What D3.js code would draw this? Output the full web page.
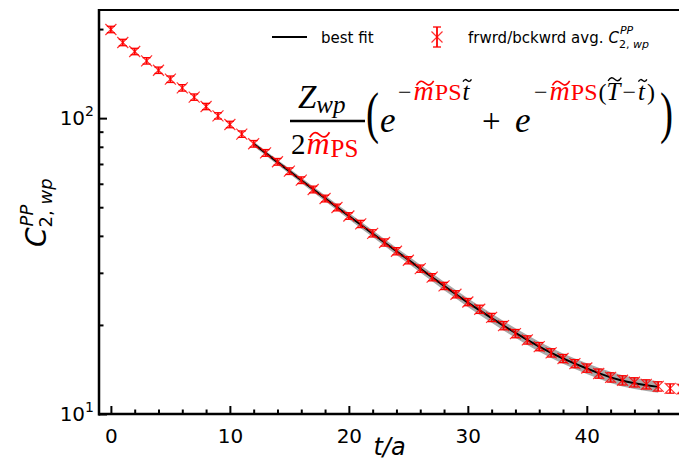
<!DOCTYPE html>
<html><head><meta charset="utf-8">
<script src="https://cdn.jsdelivr.net/npm/d3@7"></script>
<style>body{margin:0;background:#fff} svg{display:block}</style>
</head><body><svg id="c" width="679" height="462"></svg>
<script>
// ---------- data ----------
const tValues = [0,1,2,3,4,5,6,7,8,9,10,11,12,13,14,15,16,17,18,19,20,21,22,23,24,25,26,27,28,29,30,31,32,33,34,35,36,37,38,39,40,41,42,43,44,45,46,47,48];
const corrValues = [199.4,180.2,168.0,156.2,145.2,135.4,126.6,117.8,109.5,101.8,95.2,88.3,81.9,76.3,71.2,66.2,61.7,57.4,53.5,49.9,46.7,43.9,40.8,38.0,35.5,33.1,31.0,29.0,27.1,25.4,23.9,22.6,21.2,19.9,18.7,17.8,16.9,16.1,15.4,14.8,14.3,13.7,13.3,13.0,12.8,12.6,12.4,12.2,12.15];
const corrErrors = [5.0,4.5,4.2,3.9,3.6,3.4,3.2,2.9,2.7,2.5,2.4,2.2,2.1,2.0,1.85,1.7,1.6,1.5,1.4,1.3,1.2,1.23,1.14,1.06,0.99,0.93,0.87,0.81,0.76,0.71,0.67,0.72,0.68,0.64,0.60,0.57,0.54,0.52,0.49,0.47,0.46,0.49,0.48,0.47,0.46,0.45,0.45,0.44,0.44];
const fitT = [12,13,14,15,16,17,18,19,20,21,22,23,24,25,26,27,28,29,30,31,32,33,34,35,36,37,38,39,40,41,42,43,44,45,46];
const fitValues = [81.9,76.2,71.0,66.2,61.7,57.5,53.6,50.0,46.7,43.6,40.7,38.0,35.5,33.2,31.0,29.0,27.1,25.4,23.8,22.4,21.1,19.9,18.8,17.8,16.9,16.1,15.4,14.8,14.25,13.75,13.3,12.95,12.7,12.5,12.35];
const fitBandErr = [1.5,1.45,1.4,1.36,1.32,1.28,1.24,1.2,1.16,1.12,1.08,1.04,1.0,0.97,0.94,0.91,0.88,0.85,0.82,0.79,0.76,0.73,0.70,0.68,0.66,0.64,0.62,0.61,0.60,0.59,0.58,0.57,0.56,0.55,0.55];
const xTickValues = [0,10,20,30,40];
const xMinorTicks = [2,4,6,8,12,14,16,18,22,24,26,28,32,34,36,38,42,44,46];
const yTickValues = [10,100];
const yTickExponents = ["1","2"];
const yMinorTicks = [20,30,40,50,60,70,80,90,200];
const legendLabels = ["best fit","frwrd/bckwrd avg."];

// ---------- setup ----------
const svg = d3.select("#c");
const L = 99, R = 682, T = 10, B = 414;
const x = d3.scaleLinear().domain([-1,48]).range([L,R]);
const y = d3.scaleLog().domain([10,232]).range([B,T]);
const red = "#ff0000";
const sans = "DejaVu Sans";
const serif = "Liberation Serif";

svg.append("clipPath").attr("id","pc").append("rect")
  .attr("x",L).attr("y",T).attr("width",R-L).attr("height",B-T);
const plot = svg.append("g").attr("clip-path","url(#pc)");

// band + fit
const fitData = fitT.map((t,i)=>({t, v:fitValues[i], e:fitBandErr[i]}));
plot.append("path").datum(fitData)
  .attr("d", d3.area().x(d=>x(d.t)).y0(d=>y(d.v-d.e)).y1(d=>y(d.v+d.e)))
  .attr("fill","#a9a9a9");
plot.append("path").datum(fitData)
  .attr("d", d3.line().x(d=>x(d.t)).y(d=>y(d.v)))
  .attr("fill","none").attr("stroke","#000").attr("stroke-width",2);

// data markers
const pts = tValues.map((t,i)=>({t, v:corrValues[i], e:corrErrors[i]}));
function marker(g, cx, cy, yl, yh){
  const m = 5.5, c = 4;
  g.append("path").attr("d",`M${cx-m},${cy-m}L${cx+m},${cy+m}M${cx-m},${cy+m}L${cx+m},${cy-m}`)
    .attr("stroke",red).attr("stroke-width",1.2).attr("stroke-opacity",0.8).attr("fill","none");
  g.append("line").attr("x1",cx).attr("x2",cx).attr("y1",yl).attr("y2",yh).attr("stroke",red).attr("stroke-width",1.8);
  g.append("line").attr("x1",cx-c).attr("x2",cx+c).attr("y1",yl).attr("y2",yl).attr("stroke",red).attr("stroke-width",1.3);
  g.append("line").attr("x1",cx-c).attr("x2",cx+c).attr("y1",yh).attr("y2",yh).attr("stroke",red).attr("stroke-width",1.3);
}
const mg = plot.append("g");
pts.forEach(d=>{ marker(mg, x(d.t), y(d.v), y(d.v-d.e), y(d.v+d.e)); });

// ---------- axes ----------
const xAxis = svg.append("g").attr("transform",`translate(0,${B})`)
  .call(d3.axisBottom(x).tickValues(xTickValues).tickSize(-8).tickPadding(15).tickFormat(d3.format("d")));
const xMinor = svg.append("g").attr("transform",`translate(0,${B})`)
  .call(d3.axisBottom(x).tickValues(xMinorTicks).tickSize(-4.5).tickFormat(""));
const yAxis = svg.append("g").attr("transform",`translate(${L},0)`)
  .call(d3.axisLeft(y).tickValues(yTickValues).tickSize(-8).tickFormat(""));
const yMinor = svg.append("g").attr("transform",`translate(${L},0)`)
  .call(d3.axisLeft(y).tickValues(yMinorTicks).tickSize(-4.5).tickFormat(""));
[xAxis,xMinor,yAxis,yMinor].forEach(a=>{
  a.select(".domain").remove();
  a.selectAll(".tick line").attr("stroke","#000").attr("stroke-width",2);
});
xAxis.selectAll(".tick text").attr("font-family",sans).attr("font-size",20).attr("fill","#000");

yTickValues.forEach((v,i)=>{
  const t = svg.append("text").attr("x",94).attr("y",y(v)+7).attr("text-anchor","end")
    .attr("font-family",sans).attr("font-size",20).attr("fill","#000");
  t.append("tspan").text("10");
  t.append("tspan").attr("font-size",14).attr("dy",-9).text(yTickExponents[i]);
});

// spines
svg.append("line").attr("x1",L).attr("x2",L).attr("y1",T-1).attr("y2",B+1.5).attr("stroke","#000").attr("stroke-width",2.5);
svg.append("line").attr("x1",L-1).attr("x2",R).attr("y1",B).attr("y2",B).attr("stroke","#000").attr("stroke-width",2.5);
svg.append("line").attr("x1",L-1).attr("x2",R).attr("y1",T).attr("y2",T).attr("stroke","#000").attr("stroke-width",2);

// axis labels
svg.append("text").attr("x",(L+R)/2-1).attr("y",455).attr("text-anchor","middle")
  .attr("font-family",sans).attr("font-style","italic").attr("font-size",24).attr("fill","#000").text("t/a");

function cLabel(g, x0, y0, big, small, supDy, subDy){
  const c = g.append("text").attr("x",x0).attr("y",y0).attr("font-family",sans).attr("font-style","italic")
    .attr("font-size",big).attr("fill","#000").text("C");
  const w = c.node().getComputedTextLength();
  g.append("text").attr("x",x0+w+1).attr("y",y0+supDy).attr("font-family",sans).attr("font-style","italic")
    .attr("font-size",small).attr("fill","#000").text("PP");
  const sub = g.append("text").attr("x",x0+w).attr("y",y0+subDy).attr("font-family",sans)
    .attr("font-size",small).attr("fill","#000");
  sub.append("tspan").text("2, ");
  sub.append("tspan").attr("font-style","italic").text("wp");
}
const yl = svg.append("g").attr("transform","translate(46,247) rotate(-90)");
cLabel(yl, 0, 0, 28, 18, -13, 6);

// ---------- legend ----------
svg.append("line").attr("x1",272).attr("x2",307).attr("y1",37).attr("y2",37).attr("stroke","#000").attr("stroke-width",2);
svg.append("text").attr("x",321).attr("y",43).attr("font-family",sans).attr("font-size",15).attr("fill","#000").text(legendLabels[0]);
marker(svg.append("g"), 437, 37, 47, 27);
const lt = svg.append("text").attr("x",468).attr("y",43).attr("font-family",sans).attr("font-size",15).attr("fill","#000").text(legendLabels[1]);
const lw = lt.node().getComputedTextLength();
cLabel(svg.append("g"), 468+lw+5, 43, 15, 11, -9, 5);

// ---------- formula ----------
const fg = svg.append("g");
function piece(px, py, str, size, opts={}){
  const t = fg.append("text").attr("x",px).attr("y",py).attr("font-family",serif)
    .attr("font-size",size).attr("fill",opts.color||"#000").text(str);
  if(opts.italic) t.attr("font-style","italic");
  if(opts.tr) t.attr("transform",opts.tr);
  return t;
}
function tilde(cx, ty, w, col, sw){
  const a = w*0.13, x0 = cx - w/2;
  fg.append("path")
    .attr("d",`M${x0},${ty+a}C${x0+w*0.2},${ty-a*1.6} ${x0+w*0.35},${ty-a} ${x0+w*0.5},${ty}S${x0+w*0.8},${ty+a*1.6} ${x0+w},${ty-a}`)
    .attr("fill","none").attr("stroke",col).attr("stroke-width",sw);
}
// items: [str, size, italic, color, tildeFlag, dy, gapAfter]
function seq(px, py, items){
  let cx = px;
  items.forEach(it=>{
    const [s,size,ital,col,tl,dy,gap] = it;
    const t = piece(cx, py+(dy||0), s, size, {italic:ital, color:col});
    const w = t.node().getComputedTextLength();
    if(tl){
      const h = s==="m" ? 0.6 : (s==="T" ? 0.83 : 0.78);
      const tw = s==="m" ? w*0.85 : Math.max(w*0.95, size*0.34);
      tilde(cx + w*0.5 + size*0.05, py+(dy||0) - size*h, tw, col||"#000", size*0.055);
    }
    cx += w + (gap||0);
  });
  return cx;
}
// fraction
seq(298,108,[["Z",33,true,"#000",false,0,0],["wp",25,true,"#000",false,5,0]]);
fg.append("line").attr("x1",290).attr("x2",365).attr("y1",121).attr("y2",121).attr("stroke","#000").attr("stroke-width",2.5);
seq(291,154,[["2",29,false,"#000",false,0,1],["m",32,true,red,true,0,1],["PS",25,false,red,false,3,0]]);
// parens and exponentials
const mainY = 132, supY = 100;
piece(0,0,"(",56,{tr:`translate(366,${mainY}) scale(0.7,1)`});
piece(380,mainY,"e",35,{italic:true});
seq(398,supY,[["\u2212",24,false,"#000",false,0,2],["m",28,true,red,true,0,1],["PS",24,false,red,false,0,1],["t",25,true,"#000",true,0,0]]);
piece(482,mainY,"+",33);
piece(515,mainY,"e",35,{italic:true});
seq(534,supY,[["\u2212",24,false,"#000",false,0,2],["m",28,true,red,true,0,1],["PS",24,false,red,false,0,1],["(",24,false,"#000",false,0,0],["T",25,true,"#000",true,0,2],["\u2212",24,false,"#000",false,0,2],["t",25,true,"#000",true,0,2],[")",24,false,"#000",false,0,0]]);
piece(0,0,")",56,{tr:`translate(660,${mainY}) scale(0.7,1)`});
</script></body></html>
